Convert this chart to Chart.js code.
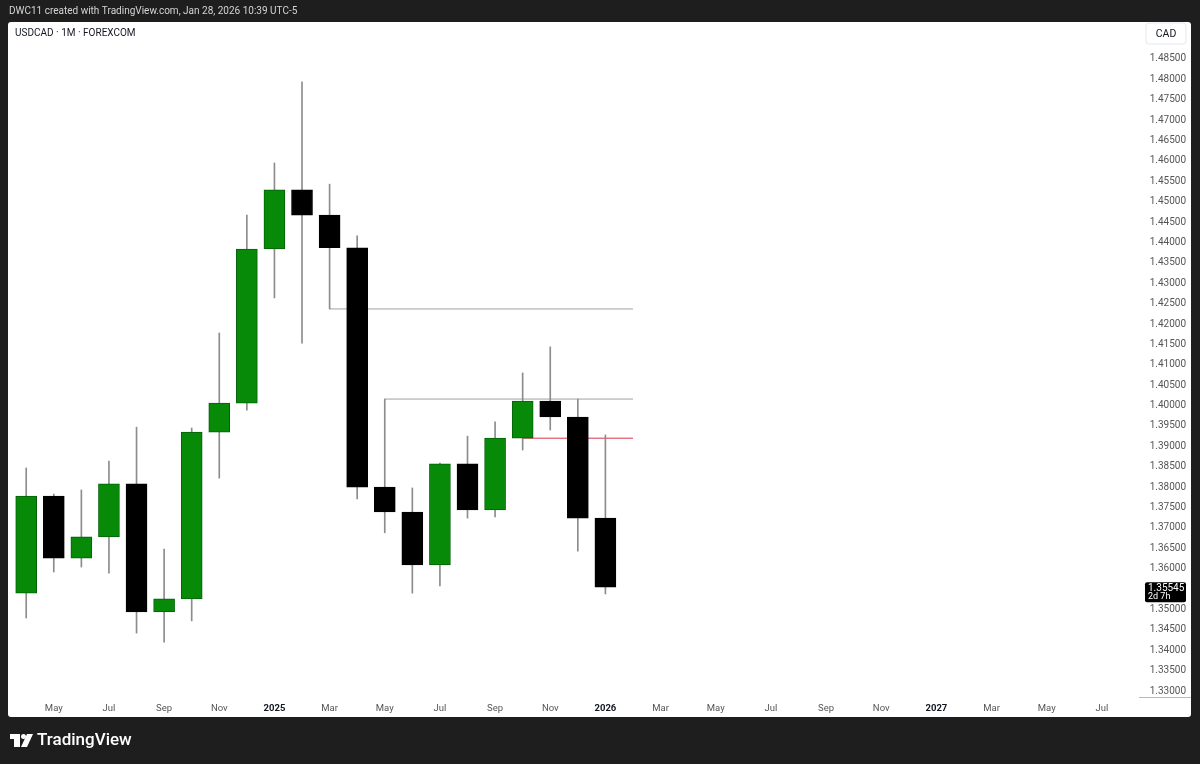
<!DOCTYPE html>
<html>
<head>
<meta charset="utf-8">
<title>USDCAD 1M</title>
<script src="https://cdn.jsdelivr.net/npm/chart.js@4.4.1/dist/chart.umd.min.js"></script>
<style>
  html, body { margin: 0; padding: 0; background: #1e1e1e; }
  canvas { display: block; }
</style>
</head>
<body>
<canvas id="candle_chart" width="1200" height="764"></canvas>
<script>
// Monthly candles USDCAD, Apr 2024 -> Jan 2026
const months = ['Apr 2024', 'May 2024', 'Jun 2024', 'Jul 2024', 'Aug 2024', 'Sep 2024', 'Oct 2024',
    'Nov 2024', 'Dec 2024', 'Jan 2025', 'Feb 2025', 'Mar 2025', 'Apr 2025', 'May 2025', 'Jun 2025',
    'Jul 2025', 'Aug 2025', 'Sep 2025', 'Oct 2025', 'Nov 2025', 'Dec 2025', 'Jan 2026'];
const opens = [1.3540, 1.3778, 1.3626, 1.3678, 1.3808, 1.3494, 1.3526, 1.3935, 1.4006, 1.4384, 1.4529,
    1.4467, 1.4387, 1.3800, 1.3739, 1.3609, 1.3857, 1.3744, 1.3920, 1.4011, 1.3972, 1.3724];
const highs = [1.3847, 1.3783, 1.3793, 1.3864, 1.3947, 1.3648, 1.3945, 1.4178, 1.4467, 1.4595, 1.4794,
    1.4543, 1.4416, 1.4016, 1.3798, 1.3859, 1.3925, 1.3960, 1.4080, 1.4144, 1.4016, 1.3928];
const lows = [1.3479, 1.3592, 1.3604, 1.3589, 1.3442, 1.3420, 1.3472, 1.3822, 1.3989, 1.4264, 1.4153,
    1.4237, 1.3771, 1.3688, 1.3540, 1.3558, 1.3724, 1.3727, 1.3891, 1.3940, 1.3643, 1.3538];
const closes = [1.3778, 1.3626, 1.3678, 1.3808, 1.3494, 1.3526, 1.3935, 1.4006, 1.4384, 1.4529, 1.4467,
    1.4387, 1.3800, 1.3739, 1.3609, 1.3857, 1.3744, 1.3920, 1.4011, 1.3972, 1.3724, 1.35545];

// time axis (month index, 0 = Apr 2024)
const timeTickPos = [1, 3, 5, 7, 9, 11, 13, 15, 17, 19, 21, 23, 25, 27, 29, 31, 33, 35, 37, 39];
const timeTickLabels = ['May', 'Jul', 'Sep', 'Nov', '2025', 'Mar', 'May', 'Jul', 'Sep', 'Nov', '2026',
    'Mar', 'May', 'Jul', 'Sep', 'Nov', '2027', 'Mar', 'May', 'Jul'];

// price axis
const priceTicks = [1.330, 1.335, 1.340, 1.345, 1.350, 1.360, 1.365, 1.370, 1.375, 1.380, 1.385, 1.390,
    1.395, 1.400, 1.405, 1.410, 1.415, 1.420, 1.425, 1.430, 1.435, 1.440, 1.445, 1.450, 1.455, 1.460,
    1.465, 1.470, 1.475, 1.480, 1.485];

// drawn levels (rays)
const levelPrices = [1.4237, 1.4016, 1.3920];
const levelStart = [11, 13, 18];
const levelEnd = [22, 22, 22];
const levelColors = ['#a0a0a0', '#a0a0a0', '#d9344c'];

const GREEN = '#078a07';
const GREEN_BORDER = '#04610a';
const FONT = 'Roboto';

const bodies = months.map((m, i) => ({ x: i, y: [opens[i], closes[i]] }));
const wicks = months.map((m, i) => ({ x: i, y: [lows[i], highs[i]] }));
const up = months.map((m, i) => closes[i] >= opens[i]);

const levelSets = levelPrices.map((p, k) => ({
    type: 'line',
    data: [{ x: levelStart[k], y: p }, { x: levelEnd[k], y: p }],
    borderColor: levelColors[k],
    borderWidth: 1,
    pointRadius: 0,
    order: 2
}));

// background, panel, texts
const frame = {
    id: 'frame',
    beforeDraw(chart) {
        const c = chart.ctx;
        c.save();
        c.fillStyle = '#1e1e1e';
        c.fillRect(0, 0, 1200, 764);
        c.fillStyle = '#ffffff';
        c.beginPath();
        c.roundRect(8, 22, 1183, 695, 3);
        c.fill();
        c.fillStyle = '#d4d4d4';
        c.font = '10px ' + FONT;
        c.textBaseline = 'middle';
        c.fillText('DWC11 created with TradingView.com, Jan 28, 2026 10:39 UTC-5', 9, 11);
        c.restore();
    },
    afterDraw(chart) {
        const c = chart.ctx;
        c.save();
        c.textBaseline = 'middle';
        c.fillStyle = '#131722';
        c.font = '10px ' + FONT;
        c.fillText('USDCAD \u00b7 1M \u00b7 FOREXCOM', 15, 33);

        // CAD box
        c.strokeStyle = '#e6e8ee';
        c.beginPath();
        c.roundRect(1146, 23, 40, 21, 3);
        c.stroke();
        c.fillStyle = '#131722';
        c.textAlign = 'center';
        c.font = '10.5px ' + FONT;
        c.fillText('CAD', 1166, 34);

        // line under price scale
        c.strokeStyle = '#b7b9bf';
        c.beginPath();
        c.moveTo(1139, 697.5);
        c.lineTo(1191, 697.5);
        c.stroke();

        // last price label
        const py = chart.scales.y.getPixelForValue(closes[closes.length - 1]);
        c.fillStyle = '#000000';
        c.beginPath();
        c.roundRect(1145, py - 5, 41, 20, 2);
        c.fill();
        c.fillStyle = '#ffffff';
        c.textAlign = 'left';
        c.font = '10px ' + FONT;
        c.fillText(closes[closes.length - 1].toFixed(5), 1148, py + 1);
        c.font = '9px ' + FONT;
        c.fillText('2d 7h', 1148, py + 10);

        // footer logo
        c.fillStyle = '#ffffff';
        c.fillRect(10, 734, 10, 5);
        c.fillRect(14, 734, 6, 13);
        c.beginPath();
        c.arc(23.5, 736.5, 2.5, 0, Math.PI * 2);
        c.fill();
        c.beginPath();
        c.moveTo(27, 734);
        c.lineTo(33, 734);
        c.lineTo(27, 747);
        c.lineTo(21, 747);
        c.closePath();
        c.fill();
        c.font = '500 17px ' + FONT;
        c.fillText('TradingView', 37, 741);
        c.restore();
    }
};

const ctx1 = document.getElementById('candle_chart');
const chartCandles = new Chart(ctx1, {
    type: 'bar',
    data: {
        datasets: [{
            label: 'body',
            data: bodies,
            backgroundColor: up.map(u => u ? GREEN : '#000000'),
            borderColor: up.map(u => u ? GREEN_BORDER : '#000000'),
            borderWidth: 1,
            borderSkipped: false,
            barThickness: 21,
            grouped: false,
            order: 0
        }, {
            label: 'wick',
            data: wicks,
            backgroundColor: '#8c8c8c',
            borderWidth: 0,
            barThickness: 1,
            grouped: false,
            order: 1
        }, ...levelSets]
    },
    options: {
        responsive: false,
        animation: false,
        layout: { padding: { left: 8, top: 22, right: 14, bottom: 47 } },
        plugins: {
            legend: { display: false },
            tooltip: { enabled: false }
        },
        scales: {
            x: {
                type: 'linear',
                offset: false,
                min: -0.66,
                max: 40.31,
                grid: { display: false, drawTicks: false },
                border: { display: false },
                afterBuildTicks: (scale) => {
                    scale.ticks = timeTickPos.map(v => ({ value: v }));
                },
                afterFit: (scale) => { scale.height = 20; },
                ticks: {
                    padding: 6,
                    maxRotation: 0,
                    autoSkip: false,
                    color: (c) => /^\d{4}$/.test(timeTickLabels[c.index]) ? '#131722' : '#555555',
                    font: (c) => ({
                        family: FONT,
                        size: 9.5,
                        weight: /^\d{4}$/.test(timeTickLabels[c.index]) ? 'bold' : 'normal'
                    }),
                    callback: (value, index) => timeTickLabels[index]
                }
            },
            y: {
                type: 'linear',
                position: 'right',
                min: 1.32853,
                max: 1.49407,
                grid: { display: false, drawTicks: false },
                border: { display: false },
                afterBuildTicks: (scale) => {
                    scale.ticks = priceTicks.map(v => ({ value: v }));
                },
                afterFit: (scale) => { scale.width = 48; },
                ticks: {
                    crossAlign: 'far',
                    padding: 8,
                    autoSkip: false,
                    color: '#555555',
                    font: { family: FONT, size: 10 },
                    callback: (value) => value.toFixed(5)
                }
            }
        }
    },
    plugins: [frame]
});
</script>
</body>
</html>
